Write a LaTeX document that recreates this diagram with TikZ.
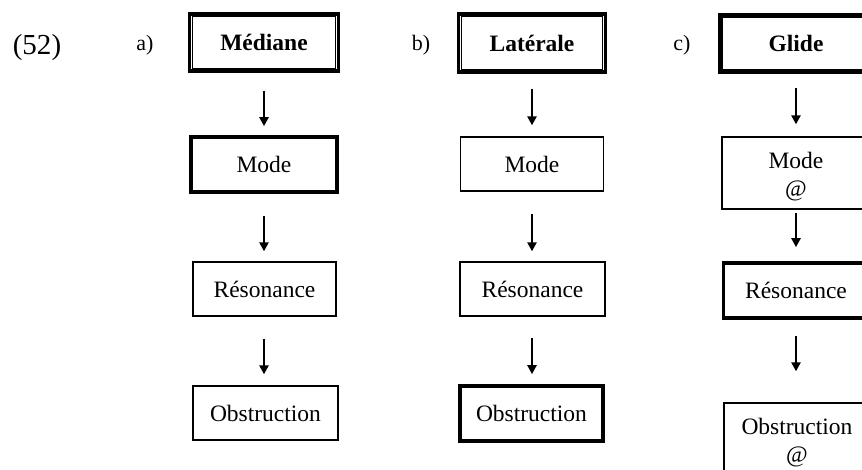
\documentclass[tikz,border=0pt]{standalone}
\usepackage{fontspec}
\setmainfont{Liberation Serif}
\usetikzlibrary{arrows.meta}
\tikzset{
  box/.style={draw=black, line width=1.3pt, rectangle, inner sep=0pt, align=center,
    font=\fontsize{23.5}{28}\selectfont},
  thickbox/.style={box, line width=3.6pt},
  dblbox/.style={box, line width=3.4pt, font=\fontsize{23.5}{28}\selectfont\bfseries},
  boxtext/.style={inner sep=0pt, align=center, font=\fontsize{23.5}{28}\selectfont},
  arr/.style={line width=2.5pt, -{Triangle[length=9pt,width=9pt]}},
  lbl/.style={inner sep=0pt, font=\fontsize{22}{26}\selectfont}
}
\newcommand{\innerframe}[1]{\draw[line width=1.1pt] ([shift={(4.5,4.5)}]#1.north west) rectangle ([shift={(-4.5,-4.5)}]#1.south east);}
\begin{document}
\begin{tikzpicture}[x=1pt,y=-1pt]
\path[use as bounding box] (0,0) rectangle (862,470);
\clip (0,0) rectangle (862,470);
\fill[white] (0,0) rectangle (862,470);

% labels
\node[lbl, font=\fontsize{29}{32}\selectfont] (num) at (37,48) {(52)};
\node[lbl] (la) at (145,45) {a)};
\node[lbl] (lb) at (421,45) {b)};
\node[lbl] (lc) at (682,45) {c)};

% column a
\node[dblbox, minimum width=149pt, minimum height=57pt] (a1) at (264,42.5) {Médiane};
\innerframe{a1}
\node[thickbox, minimum width=146pt, minimum height=55pt] (a2) at (264,164.5) {Mode};
\node[box, minimum width=143pt, minimum height=54pt] (a3) at (264.5,289) {Résonance};
\node[box, minimum width=145pt, minimum height=54pt] (a4) at (265.5,413) {Obstruction};
\draw[arr, shorten <=18pt, shorten >=9pt] (a1.south) -- (a2.north);
\draw[arr, shorten <=22pt, shorten >=10pt] (a2.south) -- (a3.north -| a2.south);
\draw[arr, shorten <=22pt, shorten >=11pt] (a3.south -| a2.south) -- (a4.north -| a2.south);

% column b
\node[dblbox, minimum width=147pt, minimum height=58pt] (b1) at (532,43) {Latérale};
\innerframe{b1}
\node[box, minimum width=143pt, minimum height=54pt] (b2) at (532,164) {Mode};
\node[box, minimum width=145pt, minimum height=54pt] (b3) at (532.5,289) {Résonance};
\node[thickbox, minimum width=143pt, minimum height=55pt] (b4) at (531.5,413.5) {Obstruction};
\draw[arr, shorten <=15pt, shorten >=11pt] (b1.south) -- (b2.north);
\draw[arr, shorten <=22pt, shorten >=10pt] (b2.south) -- (b3.north -| b2.south);
\draw[arr, shorten <=21pt, shorten >=10pt] (b3.south -| b2.south) -- (b4.north -| b2.south);

% column c
\node[dblbox, minimum width=152pt, minimum height=57pt] (c1) at (796,43.5) {Glide};
\innerframe{c1}
\node[box, minimum width=148pt, minimum height=72pt] (c2) at (796,173) {};
\node[boxtext] (c2t) at ([shift={(0,4)}]c2.center) {Mode\\@};
\node[thickbox, minimum width=145pt, minimum height=55pt] (c3) at (796,290.5) {Résonance};
\node[box, minimum width=146pt, minimum height=72pt] (c4) at (797,439) {};
\node[boxtext] (c4t) at ([shift={(0,4)}]c4.center) {Obstruction\\@};
\draw[arr, shorten <=14pt, shorten >=12pt] (c1.south) -- (c2.north);
\draw[arr, shorten <=3pt, shorten >=14pt] (c2.south) -- (c3.north);
\draw[arr, shorten <=16pt, shorten >=31pt] (c3.south) -- (c4.north -| c3.south);
\end{tikzpicture}
\end{document}
